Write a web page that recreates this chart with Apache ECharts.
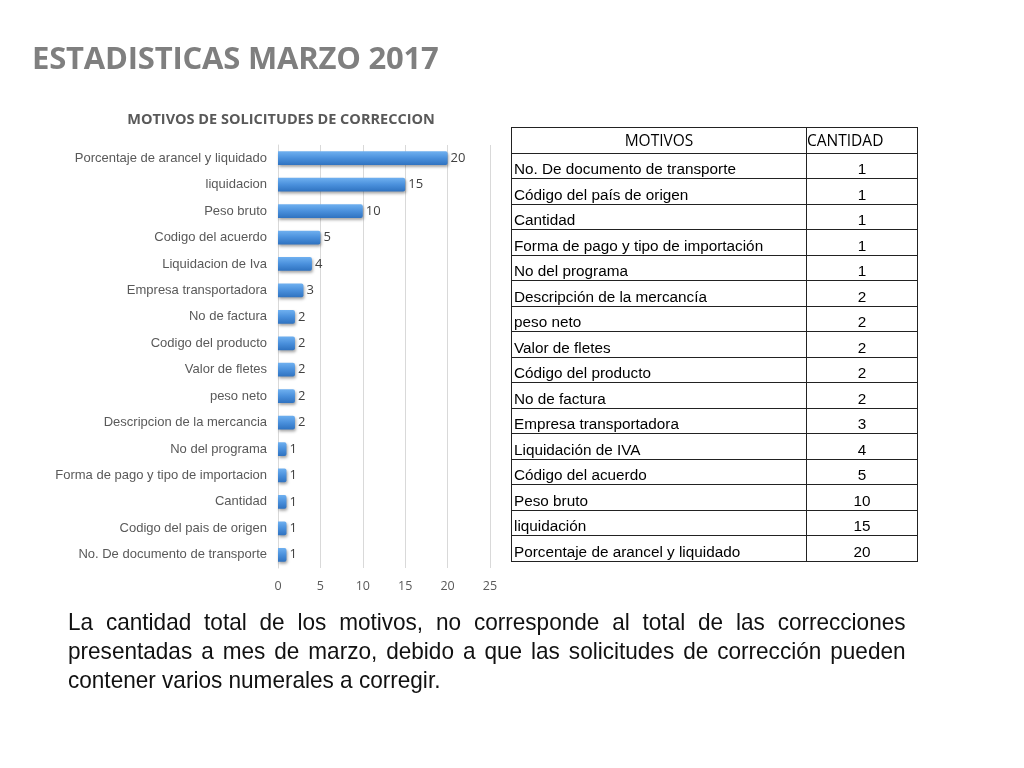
<!DOCTYPE html>
<html>
<head>
<meta charset="utf-8">
<script src="https://cdn.jsdelivr.net/npm/echarts@6/dist/echarts.min.js"></script>
<style>
html,body{margin:0;padding:0;background:#fff;}
#page{position:relative;width:1024px;height:768px;overflow:hidden;}
#chart{position:absolute;left:0;top:0;width:1024px;height:768px;}
#title{position:absolute;left:32px;top:36px;font-family:"Open Sans",sans-serif;font-weight:bold;font-size:31px;color:#7f7f7f;letter-spacing:-0.2px;}
#tbl{position:absolute;left:511px;top:127px;border-collapse:collapse;font-family:"Liberation Sans",Arial,sans-serif;font-size:15.3px;color:#000;}
#tbl td{border:1.5px solid #222;height:24.5px;padding:0 2px;vertical-align:bottom;line-height:18px;white-space:nowrap;}
#tbl td.n{text-align:center;}
#tbl tr.h td{font-family:"Open Sans",sans-serif;font-size:15.5px;height:24.5px;vertical-align:middle;}
#note{position:absolute;left:68px;top:607px;width:891px;transform:scaleX(0.94);transform-origin:0 0;font-family:"Liberation Sans",Arial,sans-serif;font-size:24px;line-height:29px;text-align:justify;color:#111;}
</style>
</head>
<body>
<div id="page">
<div id="chart"></div>
<div id="title">ESTADISTICAS MARZO 2017</div>
<table id="tbl"></table>
<div id="note">La cantidad total de los motivos, no corresponde al total de las correcciones presentadas a mes de marzo, debido a que las solicitudes de corrección pueden contener varios numerales a corregir.</div>
</div>
<script>
// Chart categories (bottom to top)
var chartCategories = [
  "No. De documento de transporte",
  "Codigo del pais de origen",
  "Cantidad",
  "Forma de pago y tipo de importacion",
  "No del programa",
  "Descripcion de la mercancia",
  "peso neto",
  "Valor de fletes",
  "Codigo del producto",
  "No de factura",
  "Empresa transportadora",
  "Liquidacion de Iva",
  "Codigo del acuerdo",
  "Peso bruto",
  "liquidacion",
  "Porcentaje de arancel y liquidado"
];
var chartValues = [1, 1, 1, 1, 1, 2, 2, 2, 2, 2, 3, 4, 5, 10, 15, 20];
var xTicks = [0, 5, 10, 15, 20, 25];

// Table
var tableHeader = ["MOTIVOS", "CANTIDAD"];
var tableMotivos = [
  "No. De documento de transporte",
  "Código del país de origen",
  "Cantidad",
  "Forma de pago y tipo de importación",
  "No del programa",
  "Descripción de la mercancía",
  "peso neto",
  "Valor de fletes",
  "Código del producto",
  "No de factura",
  "Empresa transportadora",
  "Liquidación de IVA",
  "Código del acuerdo",
  "Peso bruto",
  "liquidación",
  "Porcentaje de arancel y liquidado"
];
var tableCantidad = [1, 1, 1, 1, 1, 2, 2, 2, 2, 2, 3, 4, 5, 10, 15, 20];

// build table
(function(){
  var t = document.getElementById('tbl');
  var h = '<tr class="h"><td style="width:290px;text-align:center">' + tableHeader[0] + '</td><td style="width:108px;text-align:left;padding-left:0">' + tableHeader[1] + '</td></tr>';
  for (var i = 0; i < tableMotivos.length; i++) {
    h += '<tr><td>' + tableMotivos[i] + '</td><td class="n">' + tableCantidad[i] + '</td></tr>';
  }
  t.innerHTML = h;
})();

var chart = echarts.init(document.getElementById('chart'), null, {renderer: 'canvas'});
chart.setOption({
  animation: false,
  title: {
    text: 'MOTIVOS DE SOLICITUDES DE CORRECCION',
    left: 276, top: 107, textAlign: 'center',
    textStyle: {fontFamily: '"Open Sans", sans-serif', fontSize: 14.5, fontWeight: 'bold', color: '#595959'}
  },
  grid: {left: 278, right: 534, top: 145, bottom: 200, containLabel: false},
  xAxis: {
    type: 'value', min: xTicks[0], max: xTicks[xTicks.length - 1], interval: xTicks[1] - xTicks[0],
    axisLine: {show: false}, axisTick: {show: false},
    axisLabel: {color: '#595959', fontSize: 12.5, fontFamily: '"Open Sans", sans-serif', margin: 12},
    splitLine: {lineStyle: {color: '#d9d9d9', width: 1}}
  },
  yAxis: {
    type: 'category', data: chartCategories,
    axisLine: {show: true, lineStyle: {color: '#d9d9d9'}}, axisTick: {show: false},
    axisLabel: {color: '#595959', fontSize: 13, fontFamily: '"Liberation Sans", Arial, sans-serif', margin: 11}
  },
  series: [{
    type: 'bar',
    data: chartValues,
    barWidth: '52%',
    itemStyle: {
      color: new echarts.graphic.LinearGradient(0, 0, 0, 1, [
        {offset: 0, color: '#6fb0f0'},
        {offset: 0.5, color: '#4a90dc'},
        {offset: 1, color: '#2f72c0'}
      ]),
      borderRadius: [0, 2, 2, 0],
      shadowBlur: 3, shadowColor: 'rgba(0,0,0,0.35)', shadowOffsetX: 1, shadowOffsetY: 2
    },
    label: {
      show: true, position: 'right', distance: 3,
      color: '#404040', fontSize: 13, fontFamily: '"Open Sans", sans-serif'
    }
  }]
});
</script>
</body>
</html>
